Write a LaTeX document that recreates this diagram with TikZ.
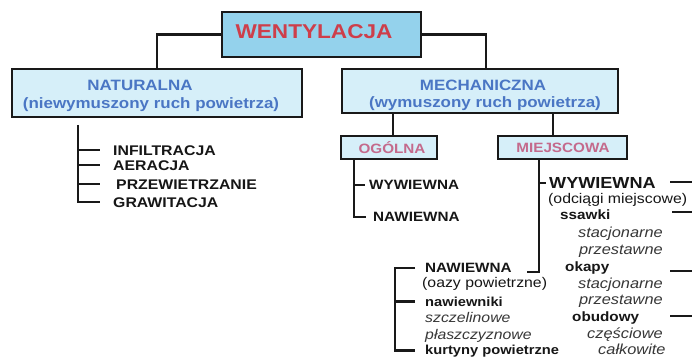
\documentclass[tikz,border=0pt]{standalone}
\usepackage{fontspec}
\setmainfont{Liberation Sans}
\usepackage{graphicx}
\definecolor{linec}{RGB}{25,25,25}
\definecolor{wentfill}{RGB}{148,210,236}
\definecolor{boxfill}{RGB}{214,239,249}
\definecolor{bluet}{RGB}{74,118,196}
\definecolor{redt}{RGB}{206,62,74}
\definecolor{pinkt}{RGB}{196,106,140}
\definecolor{txtc}{RGB}{22,22,22}
\definecolor{itc}{RGB}{55,55,55}
\newcommand\sx[1]{\scalebox{1.13}[1]{#1}}
\newcommand\fs[1]{\fontsize{#1}{#1}\selectfont}
\begin{document}
\begin{tikzpicture}[x=1pt,y=-1pt,
  conn/.style={line width=2.6pt, draw=linec},
  boxs/.style={draw=linec, line width=2pt, inner sep=0pt},
  t/.style={inner sep=0pt, text=txtc},
  tb/.style={t, font=\bfseries},
  ti/.style={inner sep=0pt, text=itc, font=\itshape}]
\useasboundingbox (0,0) rectangle (692,358);
\fill[white] (0,0) rectangle (692,358);

% boxes
\node[boxs, fill=wentfill, minimum width=199pt, minimum height=45pt] (went) at (321.5,34.5) {};
\node[boxs, fill=boxfill, minimum width=290pt, minimum height=48pt] (nat) at (157,93) {};
\node[boxs, fill=boxfill, minimum width=276pt, minimum height=44pt] (mech) at (480,91) {};
\node[boxs, fill=boxfill, minimum width=96pt, minimum height=23pt] (ogol) at (389,147.5) {};
\node[boxs, fill=boxfill, minimum width=129pt, minimum height=23pt] (miej) at (562.5,147.5) {};

% box texts
\node[t, anchor=base, text=redt, font=\fs{20}\bfseries] (wentt) at (314,38.2) {\sx{WENTYLACJA}};
\node[t, anchor=base, text=bluet, font=\fs{15}\bfseries] (natt1) at (140,90.4) {\sx{NATURALNA}};
\node[t, anchor=base, text=bluet, font=\fs{15}\bfseries] (natt2) at (151,108.5) {\sx{(niewymuszony ruch powietrza)}};
\node[t, anchor=base, text=bluet, font=\fs{15}\bfseries] (mecht1) at (483,90.4) {\sx{MECHANICZNA}};
\node[t, anchor=base, text=bluet, font=\fs{15}\bfseries] (mecht2) at (485,107.5) {\sx{(wymuszony ruch powietrza)}};
\node[t, anchor=base, text=pinkt, font=\fs{13.5}\bfseries] (ogolt) at (392,153.8) {\sx{OGÓLNA}};
\node[t, anchor=base, text=pinkt, font=\fs{13.5}\bfseries] (miejt) at (563,152.8) {\sx{MIEJSCOWA}};

% main connectors
\draw[conn] (went.west) -| (nat.north);
\draw[conn] (went.east) -| ([xshift=6pt]mech.north);
\draw[conn] ([xshift=4pt]ogol.north) -- ([xshift=4pt]ogol.north |- mech.south);
\draw[conn] ([xshift=-9.5pt]miej.north) -- ([xshift=-9.5pt]miej.north |- mech.south);

% NATURALNA list
\node[tb, anchor=base west, font=\fs{14}\bfseries] (inf) at (113,155) {\sx{INFILTRACJA}};
\node[tb, anchor=base west, font=\fs{14}\bfseries] (aer) at (113,170) {\sx{AERACJA}};
\node[tb, anchor=base west, font=\fs{14}\bfseries] (prz) at (116,189) {\sx{PRZEWIETRZANIE}};
\node[tb, anchor=base west, font=\fs{14}\bfseries] (gra) at (113,207) {\sx{GRAWITACJA}};
\coordinate (nv) at (78,125);
\draw[conn] (nv) |- ([xshift=-13pt]gra.west);
\draw[conn] (nv |- inf.west) -- ([xshift=-13pt]inf.west);
\draw[conn] (nv |- aer.west) -- ([xshift=-13pt]aer.west);
\draw[conn] (nv |- prz.west) -- ([xshift=-16pt]prz.west);

% OGOLNA list
\node[tb, anchor=base west, font=\fs{13.5}\bfseries] (ogw) at (369,189.8) {\sx{WYWIEWNA}};
\node[tb, anchor=base west, font=\fs{13.5}\bfseries] (ogn) at (373,221.8) {\sx{NAWIEWNA}};
\coordinate (ov) at (354,0);
\draw[conn] (ogol.south -| ov) |- ([xshift=-7pt]ogn.west);
\draw[conn] (ov |- ogw.west) -- ([xshift=-4pt]ogw.west);

% MIEJSCOWA: wywiewna column
\node[tb, anchor=base west, font=\fs{16}\bfseries] (mw) at (549,188.7) {\sx{WYWIEWNA}};
\node[t, anchor=base west, font=\fs{14}] (odc) at (548,203) {\sx{(odciągi miejscowe)}};
\node[tb, anchor=base west, font=\fs{13.5}\bfseries] (ssa) at (560,219) {\sx{ssawki}};
\node[ti, anchor=base east, font=\fs{14.5}\itshape] (st1) at (663,237.5) {\sx{stacjonarne}};
\node[ti, anchor=base east, font=\fs{14.5}\itshape] (pr1) at (663,254.5) {\sx{przestawne}};
\node[tb, anchor=base west, font=\fs{13.5}\bfseries] (oka) at (565,271.5) {\sx{okapy}};
\node[ti, anchor=base east, font=\fs{14.5}\itshape] (st2) at (663,288) {\sx{stacjonarne}};
\node[ti, anchor=base east, font=\fs{14.5}\itshape] (pr2) at (663,304) {\sx{przestawne}};
\node[tb, anchor=base west, font=\fs{13.5}\bfseries] (obu) at (572,321) {\sx{obudowy}};
\node[ti, anchor=base east, font=\fs{14.5}\itshape] (cze) at (663,338) {\sx{częściowe}};
\node[ti, anchor=base west, font=\fs{14.5}\itshape] (cal) at (598,354) {\sx{całkowite}};
\coordinate (mv) at (539,0);
\coordinate (mcorner) at (527,272);
\draw[conn] (miej.south -| mv) |- (mcorner);
\draw[conn] (mv |- mw.west) -- ([xshift=-3pt]mw.west);

% right edge ticks
\coordinate (r1) at (670,182);
\coordinate (r2) at (672,212);
\coordinate (r3) at (670,271);
\coordinate (r4) at (670,316);
\draw[conn] (r1) -- (r1 -| 692,0);
\draw[conn] (r2) -- (r2 -| 692,0);
\draw[conn] (r3) -- (r3 -| 692,0);
\draw[conn] (r4) -- (r4 -| 692,0);

% MIEJSCOWA: nawiewna column
\node[tb, anchor=base west, font=\fs{13.5}\bfseries] (nw) at (425,272.8) {\sx{NAWIEWNA}};
\node[t, anchor=base west, font=\fs{14}] (oaz) at (422,287) {\sx{(oazy powietrzne)}};
\node[tb, anchor=base west, font=\fs{13}\bfseries] (nwk) at (425,306) {\sx{nawiewniki}};
\node[ti, anchor=base west, font=\fs{14}\itshape] (szc) at (425,322.5) {\sx{szczelinowe}};
\node[ti, anchor=base west, font=\fs{14}\itshape] (pla) at (425,339) {\sx{płaszczyznowe}};
\node[tb, anchor=base west, font=\fs{13}\bfseries] (kur) at (425,354) {\sx{kurtyny powietrzne}};
\coordinate (lb) at (395,0);
\draw[conn] ([xshift=-10pt]nw.west) -| (lb |- kur.west) -- ([xshift=-10pt]kur.west);
\draw[conn] (lb |- nwk.west) -- ([xshift=-10pt]nwk.west);
\end{tikzpicture}
\end{document}
